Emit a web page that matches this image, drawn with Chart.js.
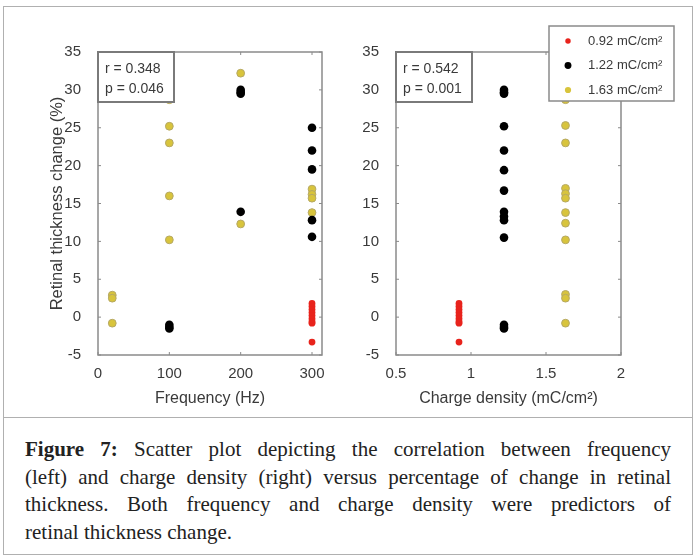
<!DOCTYPE html>
<html>
<head>
<meta charset="utf-8">
<script src="https://cdn.jsdelivr.net/npm/chart.js@4/dist/chart.umd.min.js"></script>
<style>
  body { margin: 0; background: #fff; width: 695px; height: 557px; position: relative; overflow: hidden; }
  .frame { position: absolute; left: 3px; top: 6px; width: 688px; height: 547px; border: 1px solid #b0b0b0; }
  .sep { position: absolute; left: 3px; top: 417px; width: 689px; height: 1px; background: #b0b0b0; }
  .plot { position: absolute; top: 0; }
  .caption { position: absolute; left: 25px; top: 436px; width: 646px; font-family: "Liberation Serif", serif;
    font-size: 21px; line-height: 27.5px; color: #222; }
  .caption div { text-align: justify; text-align-last: justify; white-space: nowrap; }
  .caption div.last { text-align-last: left; }
</style>
</head>
<body>
<div class="frame"></div>
<div class="sep"></div>
<div class="plot" style="left:0"><canvas id="freqChart" width="340" height="420"></canvas></div>
<div class="plot" style="left:340px"><canvas id="chargeChart" width="340" height="420"></canvas></div>
<div class="caption">
  <div><b>Figure 7:</b> Scatter plot depicting the correlation between frequency</div>
  <div>(left) and charge density (right) versus percentage of change in retinal</div>
  <div>thickness. Both frequency and charge density were predictors of</div>
  <div class="last">retinal thickness change.</div>
</div>

<script>
// tick labels
const yTicks = [-5, 0, 5, 10, 15, 20, 25, 30, 35];
const freqTicks = [0, 100, 200, 300];
const chargeTicks = [0.5, 1, 1.5, 2];

// series labels (charge density groups)
const groupLabels = ['0.92 mC/cm²', '1.22 mC/cm²', '1.63 mC/cm²'];

// left plot: frequency (Hz) vs change (%)
const freqRedX = [300, 300, 300, 300, 300, 300, 300, 300, 300];
const freqRedY = [1.8, 1.4, 1.0, 0.6, 0.2, -0.2, -0.6, -0.8, -3.3];
const freqBlackX = [100, 100, 100, 200, 200, 200, 200, 300, 300, 300, 300, 300];
const freqBlackY = [-1.0, -1.3, -1.5, 30.0, 29.7, 29.5, 13.9, 25.0, 22.0, 19.5, 12.8, 10.6];
const freqYellowX = [20, 20, 20, 100, 100, 100, 100, 100, 200, 200, 300, 300, 300, 300];
const freqYellowY = [2.9, 2.5, -0.8, 28.7, 25.2, 23.0, 16.0, 10.2, 32.2, 12.3, 16.9, 16.2, 15.7, 13.8];
const freqStats = ['r = 0.348', 'p = 0.046'];

// right plot: charge density vs change (%)
const chargeRedX = [0.92, 0.92, 0.92, 0.92, 0.92, 0.92, 0.92, 0.92, 0.92];
const chargeRedY = [1.8, 1.4, 1.0, 0.6, 0.2, -0.2, -0.6, -0.8, -3.3];
const chargeBlackX = [1.22, 1.22, 1.22, 1.22, 1.22, 1.22, 1.22, 1.22, 1.22, 1.22, 1.22, 1.22, 1.22, 1.22];
const chargeBlackY = [30.0, 29.7, 29.5, 25.2, 22.0, 19.4, 16.7, 13.9, 13.3, 12.8, 10.5, -1.0, -1.3, -1.5];
const chargeYellowX = [1.63, 1.63, 1.63, 1.63, 1.63, 1.63, 1.63, 1.63, 1.63, 1.63, 1.63, 1.63, 1.63];
const chargeYellowY = [32.2, 28.7, 25.3, 23.0, 17.0, 16.3, 15.7, 13.8, 12.4, 10.2, 3.0, 2.5, -0.8];
const chargeStats = ['r = 0.542', 'p = 0.001'];

const AX = '#8a8a8a';
const TXT = '#3a3a3a';
const FONT = '"Liberation Sans", Arial, sans-serif';

function pts(xs, ys) {
    return xs.map((x, i) => ({ x: x, y: ys[i] }));
}

function makeSets(rx, ry, bx, by, yx, yy) {
    return [
        { label: groupLabels[0], data: pts(rx, ry), backgroundColor: '#e8231c', borderColor: '#e8231c', borderWidth: 0, pointRadius: 3.4 },
        { label: groupLabels[1], data: pts(bx, by), backgroundColor: '#000000', borderColor: '#000000', borderWidth: 0, pointRadius: 4.3 },
        { label: groupLabels[2], data: pts(yx, yy), backgroundColor: '#d8c43c', borderColor: '#b5a865', borderWidth: 1, pointRadius: 3.9 }
    ];
}

// box around the plot area with inward tick marks (matlab style)
const boxPlugin = {
    id: 'box',
    afterDatasetsDraw(chart) {
        const { ctx, chartArea: a, scales } = chart;
        ctx.save();
        ctx.strokeStyle = AX;
        ctx.lineWidth = 1.5;
        ctx.strokeRect(a.left, a.top, a.right - a.left, a.bottom - a.top);
        ctx.lineWidth = 1;
        ctx.beginPath();
        scales.x.ticks.forEach(t => {
            const px = scales.x.getPixelForValue(t.value);
            ctx.moveTo(px, a.bottom); ctx.lineTo(px, a.bottom - 3);
            ctx.moveTo(px, a.top); ctx.lineTo(px, a.top + 3);
        });
        scales.y.ticks.forEach(t => {
            const py = scales.y.getPixelForValue(t.value);
            ctx.moveTo(a.left, py); ctx.lineTo(a.left + 3, py);
            ctx.moveTo(a.right, py); ctx.lineTo(a.right - 3, py);
        });
        ctx.stroke();

        // r / p text box in the upper left corner
        const lines = chart.options.plugins.box.lines;
        ctx.fillStyle = '#fff';
        ctx.fillRect(a.left, a.top, 76, 50);
        ctx.strokeStyle = '#7a7a7a';
        ctx.lineWidth = 2;
        ctx.strokeRect(a.left, a.top, 76, 50);
        ctx.fillStyle = TXT;
        ctx.font = '14px ' + FONT;
        ctx.textBaseline = 'middle';
        lines.forEach((s, i) => ctx.fillText(s, a.left + 7, a.top + 17 + i * 20));

        // legend
        const lg = chart.options.plugins.box.legend;
        if (lg) {
            ctx.fillStyle = '#fff';
            ctx.fillRect(lg.x, lg.y, lg.w, lg.h);
            ctx.strokeStyle = AX;
            ctx.lineWidth = 1.5;
            ctx.strokeRect(lg.x, lg.y, lg.w, lg.h);
            ctx.font = '13px ' + FONT;
            chart.data.datasets.forEach((ds, i) => {
                const cy = lg.y + 15 + i * 24.5;
                ctx.beginPath();
                ctx.arc(lg.x + 19, cy, ds.pointRadius * 0.8, 0, Math.PI * 2);
                ctx.fillStyle = ds.backgroundColor;
                ctx.fill();
                ctx.fillStyle = TXT;
                ctx.fillText(ds.label, lg.x + 39, cy);
            });
        }
        ctx.restore();
    }
};

function makeChart(id, sets, xMin, xMax, xTicks, xTitle, showYTitle, pad, extra) {
    return new Chart(document.getElementById(id), {
        type: 'scatter',
        data: { datasets: sets },
        plugins: [boxPlugin],
        options: {
            responsive: false,
            animation: false,
            layout: { padding: pad },
            plugins: {
                legend: { display: false },
                tooltip: { enabled: false },
                box: extra
            },
            scales: {
                x: {
                    type: 'linear', min: xMin, max: xMax,
                    afterBuildTicks: s => { s.ticks = xTicks.map(v => ({ value: v })); },
                    afterFit: s => { s.height = 65; },
                    grid: { display: false },
                    border: { display: false },
                    ticks: { color: TXT, font: { size: 15, family: FONT }, padding: 2, maxRotation: 0, callback: v => String(v) },
                    title: { display: true, text: xTitle, color: TXT, font: { size: 16, family: FONT }, padding: { bottom: 12 } }
                },
                y: {
                    type: 'linear', min: -5, max: 35,
                    afterBuildTicks: s => { s.ticks = yTicks.map(v => ({ value: v })); },
                    afterFit: s => { s.width = pad.yw; },
                    grid: { display: false },
                    border: { display: false },
                    ticks: { color: TXT, font: { size: 15, family: FONT }, padding: 9, callback: v => String(v) },
                    title: { display: showYTitle, text: 'Retinal thickness change (%)', color: TXT, font: { size: 16.5, family: FONT }, padding: { top: 48 } }
                }
            }
        }
    });
}

makeChart('freqChart',
    makeSets(freqRedX, freqRedY, freqBlackX, freqBlackY, freqYellowX, freqYellowY),
    0, 314, freqTicks, 'Frequency (Hz)', true,
    { left: 0, top: 52, right: 18, bottom: 0, yw: 98 },
    { lines: freqStats });

makeChart('chargeChart',
    makeSets(chargeRedX, chargeRedY, chargeBlackX, chargeBlackY, chargeYellowX, chargeYellowY),
    0.5, 2, chargeTicks, 'Charge density (mC/cm²)', false,
    { left: 0, top: 52, right: 59, bottom: 0, yw: 56 },
    { lines: chargeStats, legend: { x: 209, y: 26, w: 125, h: 75 } });
</script>
</body>
</html>
